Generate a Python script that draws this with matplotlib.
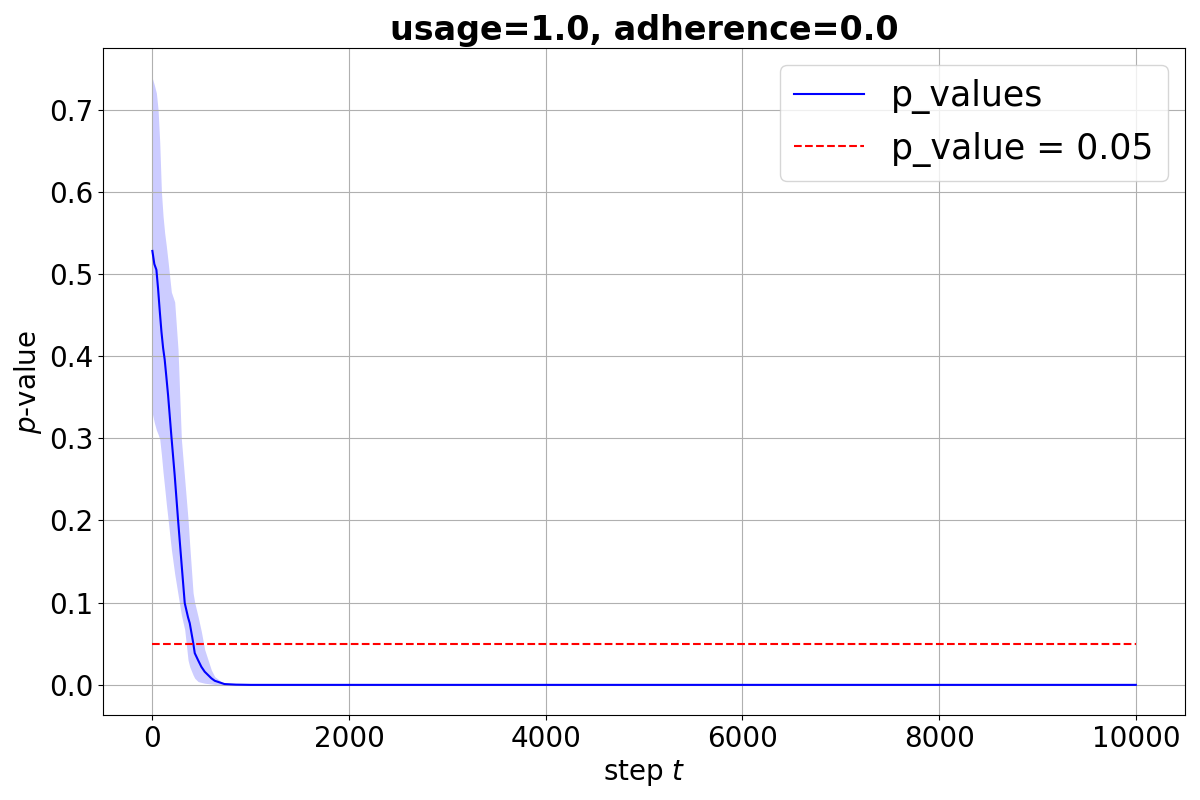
import matplotlib
matplotlib.use("Agg")
import matplotlib.pyplot as plt

# values
steps = [0, 20, 41, 58, 75, 92, 109, 125, 142, 160, 193, 227, 261, 295, 329, 363,
         380, 414, 431, 465, 498, 532, 600, 634, 733, 850, 1000, 2000, 4000, 6000, 8000, 10000]
p_mean = [0.528, 0.512, 0.505, 0.482, 0.455, 0.430, 0.410, 0.396, 0.375, 0.352, 0.303, 0.255,
          0.201, 0.150, 0.0996, 0.082, 0.075, 0.052, 0.0386, 0.030, 0.022, 0.016, 0.008, 0.005,
          0.001, 0.0003, 0.0, 0.0, 0.0, 0.0, 0.0, 0.0]
p_upper = [0.738, 0.730, 0.720, 0.700, 0.660, 0.600, 0.570, 0.550, 0.534, 0.515, 0.478, 0.466,
           0.408, 0.299, 0.250, 0.201, 0.170, 0.112, 0.100, 0.083, 0.065, 0.043, 0.018, 0.010,
           0.001, 0.0003, 0.0, 0.0, 0.0, 0.0, 0.0, 0.0]
p_lower = [0.330, 0.319, 0.310, 0.305, 0.299, 0.280, 0.258, 0.240, 0.220, 0.201, 0.165, 0.135,
           0.110, 0.085, 0.067, 0.030, 0.022, 0.012, 0.008, 0.004, 0.003, 0.002, 0.001, 0.0005,
           0.0, 0.0, 0.0, 0.0, 0.0, 0.0, 0.0, 0.0]
threshold = 0.05
title = "usage=1.0, adherence=0.0"


def main():
    fig, ax = plt.subplots(figsize=(12, 8), dpi=100)
    ax.fill_between(steps, p_lower, p_upper, color="blue", alpha=0.2, linewidth=0)
    ax.plot(steps, p_mean, color="blue", linewidth=1.5, label="p_values")
    ax.hlines(threshold, steps[0], steps[-1], colors="red", linestyles="--",
              linewidth=1.5, label="p_value = 0.05")
    ax.set_title(title, fontsize=24, fontweight="bold")
    ax.set_xlabel("step $t$", fontsize=20)
    ax.set_ylabel("$p$-value", fontsize=20)
    ax.tick_params(labelsize=20)
    ax.grid(True)
    ax.legend(fontsize=25, loc="upper right")
    fig.subplots_adjust(left=0.086, right=0.9875, top=0.94, bottom=0.106)
    fig.savefig("out.png", dpi=100)


if __name__ == "__main__":
    main()
